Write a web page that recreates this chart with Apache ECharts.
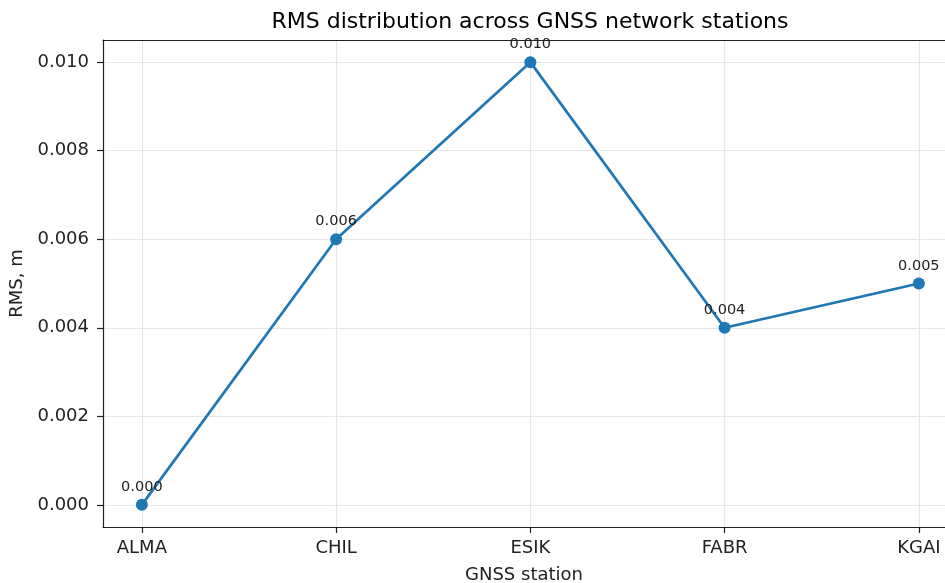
<!DOCTYPE html>
<html>
<head>
<meta charset="utf-8">
<script src="https://cdn.jsdelivr.net/npm/echarts@6/dist/echarts.min.js"></script>
<style>
  html, body { margin: 0; padding: 0; background: #fff; }
  #chart { width: 945px; height: 583px; }
</style>
</head>
<body>
<div id="chart"></div>
<script>
// stations and their RMS values (m)
const stations = ['ALMA', 'CHIL', 'ESIK', 'FABR', 'KGAI']
const rmsValues = [0.000, 0.006, 0.010, 0.004, 0.005]
const yTicks = [0.000, 0.002, 0.004, 0.006, 0.008, 0.010]
const xTicks = [0, 1, 2, 3, 4]

const font = 'DejaVu Sans'
const chart = echarts.init(document.getElementById('chart'))

// the plot runs past the right edge of the figure, so the x range is cut at the window
const option = {
  animation: false,
  title: {
    text: 'RMS distribution across GNSS network stations',
    left: 530,
    top: 11,
    padding: 0,
    textAlign: 'center',
    textStyle: { fontFamily: font, fontSize: 22, fontWeight: 'normal', color: '#000' }
  },
  grid: { left: 103, top: 40, right: 0, bottom: 56, show: false, outerBoundsMode: 'none' },
  xAxis: [{
    type: 'value',
    min: -0.2,
    max: 4.1347,
    name: 'GNSS station',
    nameLocation: 'middle',
    nameGap: 39,
    nameTextStyle: { fontFamily: font, fontSize: 18, color: '#222' },
    axisLine: { onZero: false, lineStyle: { color: '#222', width: 1.2 } },
    axisTick: { show: true, length: 6, customValues: xTicks, lineStyle: { color: '#222', width: 1.2 } },
    axisLabel: {
      customValues: xTicks,
      margin: 12,
      fontFamily: font, fontSize: 18, color: '#222',
      formatter: v => stations[Math.round(v)]
    },
    splitLine: { show: true, lineStyle: { color: '#e6e6e6', width: 1.2 } }
  }, {
    // top spine
    type: 'value',
    position: 'top',
    min: -0.2,
    max: 4.1347,
    axisLine: { show: true, onZero: false, lineStyle: { color: '#222', width: 1.2 } },
    axisTick: { show: false },
    axisLabel: { show: false },
    splitLine: { show: false }
  }],
  yAxis: {
    type: 'value',
    min: -0.0005,
    max: 0.0105,
    name: 'RMS, m',
    nameLocation: 'middle',
    nameGap: 74,
    nameTextStyle: { fontFamily: font, fontSize: 18, color: '#222' },
    axisLine: { show: true, onZero: false, lineStyle: { color: '#222', width: 1.2 } },
    axisTick: { show: true, length: 6, customValues: yTicks, lineStyle: { color: '#222', width: 1.2 } },
    axisLabel: {
      customValues: yTicks,
      margin: 14,
      fontFamily: font, fontSize: 18, color: '#222',
      formatter: v => v.toFixed(3)
    },
    splitLine: { show: true, lineStyle: { color: '#e6e6e6', width: 1.2 } }
  },
  series: [{
    type: 'line',
    data: rmsValues.map((v, i) => [i, v]),
    symbol: 'circle',
    symbolSize: 12,
    lineStyle: { color: '#1f77b4', width: 2.7 },
    itemStyle: { color: '#1f77b4' },
    label: {
      show: true,
      position: 'top',
      distance: 4,
      fontFamily: font, fontSize: 14.5, color: '#222',
      formatter: p => p.value[1].toFixed(3)
    }
  }]
}

chart.setOption(option)
</script>
</body>
</html>
